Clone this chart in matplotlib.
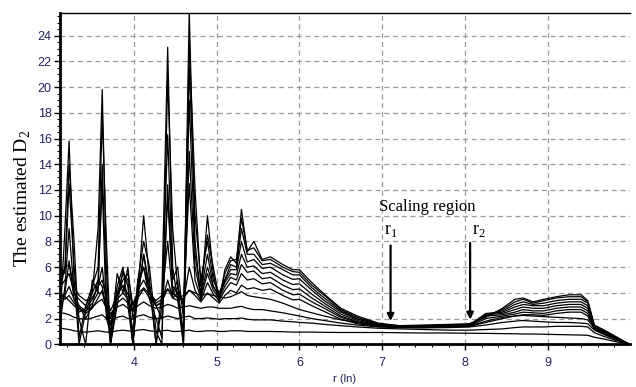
import numpy as np
import matplotlib
matplotlib.use("Agg")
import matplotlib.pyplot as plt
from matplotlib.ticker import MultipleLocator

plt.rcParams["mathtext.fontset"] = "custom"
plt.rcParams["mathtext.rm"] = "Liberation Serif"

# r (ln) grid shared by all curves
r_ln = [3.12, 3.17, 3.22, 3.28, 3.34, 3.42, 3.50, 3.57,
        3.62, 3.67, 3.72, 3.80, 3.87, 3.93, 3.99, 4.05,
        4.12, 4.19, 4.27, 4.34, 4.41, 4.47, 4.53, 4.60,
        4.67, 4.74, 4.81, 4.89, 4.96, 5.03, 5.10, 5.17,
        5.24, 5.30, 5.37, 5.45, 5.55, 5.65, 5.80, 5.92,
        6.00, 6.15, 6.30, 6.50, 6.70, 6.95, 7.20, 7.50,
        7.80, 8.05, 8.25, 8.45, 8.60, 8.70, 8.82, 8.95,
        9.10, 9.25, 9.40, 9.48, 9.56, 9.68, 9.82, 9.97]

# estimated D2, one curve per embedding dimension
d2_m01 = [1.25, 1.2, 1.15, 1.05, 1.0, 0.95, 1.0, 1.05,
          1.0, 0.95, 0.95, 1.05, 1.1, 1.05, 1.0, 1.1,
          1.15, 1.05, 1.0, 1.05, 1.1, 1.0, 1.0, 1.05,
          1.1, 1.0, 1.0, 1.05, 1.05, 1.0, 1.0, 1.05,
          1.05, 1.05, 1.0, 1.0, 1.0, 1.0, 0.98, 0.95,
          0.95, 0.95, 0.93, 0.92, 0.92, 0.92, 0.9, 0.88,
          0.88, 0.86, 0.85, 0.83, 0.82, 0.8, 0.8, 0.78,
          0.76, 0.74, 0.72, 0.7, 0.55, 0.4, 0.2, 0.05]
d2_m02 = [2.45, 2.4, 2.3, 2.1, 2.0, 1.95, 2.05, 2.2,
          2.3, 2.0, 1.8, 2.1, 2.2, 2.0, 1.95, 2.2,
          2.3, 2.1, 2.0, 2.05, 2.2, 2.1, 2.0, 2.1,
          2.2, 2.0, 2.0, 2.05, 2.0, 1.95, 2.0, 2.0,
          2.0, 2.05, 1.95, 1.9, 1.9, 1.9, 1.8, 1.75,
          1.7, 1.65, 1.55, 1.45, 1.35, 1.25, 1.2, 1.15,
          1.1, 1.1, 1.15, 1.2, 1.3, 1.35, 1.35, 1.35,
          1.4, 1.4, 1.4, 1.35, 0.9, 0.6, 0.3, 0.05]
d2_m03 = [3.9, 3.7, 3.4, 3.0, 2.7, 2.6, 2.9, 3.3,
          3.5, 2.8, 2.4, 2.9, 3.1, 2.8, 2.6, 3.0,
          3.3, 3.0, 2.8, 2.9, 3.1, 3.0, 2.8, 2.9,
          3.0, 2.9, 2.8, 2.9, 2.9, 2.8, 2.8, 2.8,
          2.9, 2.95, 2.8, 2.7, 2.7, 2.6, 2.45, 2.3,
          2.2, 2.0, 1.85, 1.65, 1.5, 1.35, 1.3, 1.28,
          1.3, 1.35, 1.5, 1.7, 1.8, 1.85, 1.8, 1.75,
          1.7, 1.7, 1.65, 1.6, 1.1, 0.75, 0.4, 0.05]
d2_m04 = [4.5, 6.0, 6.2, 4.5, 3.8, 3.4, 3.6, 4.5,
          5.0, 3.6, 2.6, 3.8, 4.6, 3.9, 3.2, 3.9,
          4.4, 3.9, 3.4, 3.8, 4.3, 4.0, 3.6, 3.8,
          4.2, 4.0, 3.8, 3.9, 3.8, 3.7, 3.6, 3.7,
          3.9, 4.1, 3.8, 3.7, 3.6, 3.5, 3.2, 2.9,
          2.7, 2.45, 2.2, 1.9, 1.7, 1.5, 1.4, 1.35,
          1.38, 1.4, 1.7, 2.0, 2.2, 2.25, 2.2, 2.15,
          2.1, 2.05, 2.0, 1.9, 1.25, 0.85, 0.45, 0.05]
d2_m05 = [3.6, 3.5, 3.8, 3.2, 2.8, 2.4, 2.8, 3.6,
          4.2, 2.8, 2.2, 3.2, 3.6, 3.2, 2.8, 3.6,
          4.3, 3.6, 3.0, 3.3, 4.3, 3.6, 3.4, 3.6,
          4.2, 3.8, 3.3, 4.0, 3.6, 3.2, 3.8, 4.2,
          4.0, 4.6, 4.3, 4.4, 4.2, 4.3, 3.8, 3.45,
          3.5, 3.0, 2.55, 1.95, 1.6, 1.38, 1.3, 1.3,
          1.35, 1.38, 1.8, 2.1, 2.2, 2.3, 2.3, 2.25,
          2.4, 2.5, 2.5, 2.2, 1.15, 0.78, 0.4, 0.05]
d2_m06 = [3.0, 3.8, 4.5, 3.5, 3.0, 2.6, 3.2, 4.0,
          4.0, 3.0, 2.0, 3.5, 4.0, 3.5, 2.5, 4.2,
          5.0, 4.0, 3.0, 3.2, 5.0, 3.6, 4.0, 3.3,
          6.0, 4.2, 3.4, 4.8, 3.9, 3.4, 4.2, 4.8,
          4.6, 5.5, 5.0, 5.1, 4.7, 4.8, 4.2, 3.85,
          3.9, 3.3, 2.8, 2.1, 1.7, 1.42, 1.32, 1.32,
          1.38, 1.4, 2.0, 2.2, 2.35, 2.5, 2.45, 2.4,
          2.6, 2.7, 2.7, 2.4, 1.2, 0.8, 0.4, 0.05]
d2_m07 = [4.5, 5.0, 5.5, 4.0, 3.5, 3.0, 4.0, 5.0,
          4.5, 2.5, 1.5, 4.0, 4.5, 3.5, 1.0, 5.0,
          6.0, 4.2, 3.2, 3.5, 8.0, 3.8, 4.5, 3.0,
          12.5, 5.0, 3.6, 5.5, 4.2, 3.6, 4.5, 5.2,
          5.0, 6.2, 5.6, 5.7, 5.1, 5.2, 4.6, 4.25,
          4.3, 3.6, 3.0, 2.2, 1.75, 1.45, 1.35, 1.35,
          1.4, 1.42, 2.2, 2.3, 2.5, 2.7, 2.6, 2.6,
          2.8, 2.9, 2.9, 2.6, 1.25, 0.85, 0.45, 0.05]
d2_m08 = [3.5, 4.0, 6.5, 3.5, 2.5, 2.8, 3.5, 4.5,
          6.0, 3.0, 0.0, 3.8, 5.0, 5.5, 3.0, 4.0,
          7.0, 4.0, 3.0, 2.0, 11.5, 4.5, 4.0, 1.0,
          15.0, 6.0, 3.8, 6.0, 4.5, 3.7, 4.8, 5.5,
          5.4, 7.0, 6.0, 6.1, 5.5, 5.6, 5.0, 4.65,
          4.7, 3.9, 3.2, 2.35, 1.85, 1.5, 1.38, 1.38,
          1.42, 1.45, 2.3, 2.4, 2.7, 2.9, 2.8, 2.8,
          3.0, 3.1, 3.1, 2.8, 1.3, 0.9, 0.45, 0.05]
d2_m09 = [2.0, 4.5, 9.0, 4.0, 3.0, 2.0, 3.0, 5.0,
          12.4, 2.0, 1.0, 4.5, 6.0, 3.0, 0.0, 4.5,
          6.0, 3.5, 2.0, 0.5, 12.4, 4.0, 5.0, 0.0,
          19.0, 7.0, 4.0, 7.0, 4.5, 3.8, 5.0, 5.8,
          5.8, 8.0, 6.4, 6.6, 5.9, 6.0, 5.4, 5.05,
          5.1, 4.2, 3.4, 2.5, 1.95, 1.55, 1.4, 1.4,
          1.45, 1.5, 2.4, 2.5, 2.9, 3.1, 3.0, 3.0,
          3.2, 3.3, 3.3, 3.0, 1.35, 0.95, 0.5, 0.05]
d2_m10 = [6.0, 5.5, 12.5, 6.0, 2.0, 0.0, 5.0, 4.0,
          14.0, 4.0, 0.5, 5.5, 4.0, 6.0, 2.0, 3.5,
          7.0, 4.5, 0.0, 3.0, 16.3, 5.0, 6.0, 2.0,
          21.5, 10.0, 5.0, 8.0, 5.0, 4.0, 5.0, 6.2,
          6.0, 9.0, 7.0, 7.0, 6.2, 6.3, 5.8, 5.4,
          5.4, 4.4, 3.6, 2.6, 2.0, 1.55, 1.4, 1.45,
          1.5, 1.5, 2.3, 2.6, 3.1, 3.3, 3.1, 3.2,
          3.4, 3.5, 3.5, 3.2, 1.4, 1.0, 0.5, 0.05]
d2_m11 = [5.0, 6.0, 14.0, 8.0, 0.5, 3.0, 4.5, 6.0,
          17.8, 8.0, 0.0, 4.0, 5.5, 5.0, 0.0, 5.0,
          8.0, 6.0, 1.0, 0.0, 20.8, 9.0, 4.5, 0.0,
          23.5, 12.0, 4.5, 8.5, 6.0, 3.6, 5.5, 6.5,
          6.6, 9.8, 7.3, 7.5, 6.5, 6.6, 6.0, 5.65,
          5.6, 4.6, 3.8, 2.7, 2.1, 1.6, 1.45, 1.45,
          1.5, 1.55, 2.2, 2.7, 3.3, 3.5, 3.2, 3.4,
          3.6, 3.7, 3.7, 3.3, 1.45, 1.05, 0.55, 0.05]
d2_m12 = [3.0, 9.0, 15.8, 5.0, 0.0, 2.5, 4.0, 9.0,
          19.8, 6.0, 0.0, 3.0, 5.8, 4.5, 0.0, 4.0,
          10.0, 5.0, 0.0, 4.0, 23.1, 6.0, 3.5, 0.0,
          26.0, 8.0, 3.5, 10.0, 5.5, 3.3, 5.8, 6.8,
          6.3, 10.5, 7.2, 8.0, 6.6, 6.8, 6.2, 5.8,
          5.8, 4.8, 3.9, 2.8, 2.2, 1.65, 1.45, 1.5,
          1.55, 1.6, 2.1, 2.8, 3.5, 3.6, 3.3, 3.5,
          3.7, 3.85, 3.85, 3.4, 1.5, 1.1, 0.6, 0.05]

curves = [d2_m01, d2_m02, d2_m03, d2_m04, d2_m05, d2_m06,
          d2_m07, d2_m08, d2_m09, d2_m10, d2_m11, d2_m12]

x_ticks = [4, 5, 6, 7, 8, 9]
y_ticks = list(range(0, 25, 2))
r1, r2 = 7.10, 8.06

fig = plt.figure(figsize=(6.36, 3.87), dpi=100)
ax = fig.add_axes([0.0943, 0.1103, 0.8963, 0.8561])

x = np.array(r_ln)
for c in curves:
    ax.plot(x, c, color="black", lw=0.9)

ax.set_xlim(3.11, 9.99)
ax.set_ylim(0, 25.76)
ax.set_xticks(x_ticks)
ax.set_yticks(y_ticks)
ax.xaxis.set_minor_locator(MultipleLocator(0.2))
ax.yaxis.set_minor_locator(MultipleLocator(0.5))

ax.grid(True, which="major", color="#9a9a9a", linestyle=(0, (4, 3)), lw=0.9)
ax.set_axisbelow(True)

ax.spines["right"].set_visible(False)
ax.spines["top"].set_linewidth(1.0)
ax.spines["left"].set_linewidth(2.0)
ax.spines["bottom"].set_linewidth(2.0)

tick_col = "#22225a"
ax.tick_params(axis="both", which="major", direction="out", length=4,
               width=1, labelsize=9, labelcolor=tick_col, top=False, right=False)
ax.tick_params(axis="x", which="major", pad=5)
ax.tick_params(axis="y", which="major", pad=2)
ax.tick_params(axis="both", which="minor", direction="out", length=2,
               width=0.8, top=False, right=False)
for lab in ax.get_xticklabels() + ax.get_yticklabels():
    lab.set_fontfamily("Liberation Sans")

ax.set_xlabel("r (ln)", fontsize=8, color=tick_col, family="Liberation Sans",
              labelpad=4)
ax.set_ylabel(r"The estimated D$_2$", fontsize=14, family="Liberation Serif")
ax.yaxis.set_label_coords(-0.047, 0.44)

ax.text(6.96, 10.4, "Scaling region", fontsize=12, family="Liberation Serif")
ax.text(7.02, 8.6, r"r$_1$", fontsize=13, family="Liberation Serif")
ax.text(8.08, 8.6, r"r$_2$", fontsize=13, family="Liberation Serif")
ax.annotate("", xy=(r1, 1.6), xytext=(r1, 7.9),
            arrowprops=dict(arrowstyle="-|>", color="black", lw=1.6,
                            mutation_scale=10))
ax.annotate("", xy=(r2, 1.7), xytext=(r2, 8.1),
            arrowprops=dict(arrowstyle="-|>", color="black", lw=1.6,
                            mutation_scale=10))

fig.savefig("out.png", dpi=100)
